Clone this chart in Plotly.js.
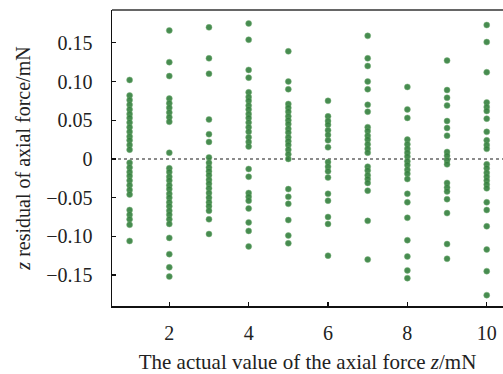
<!DOCTYPE html>
<html>
<head>
<meta charset="utf-8">
<script src="https://cdn.plot.ly/plotly-3.0.1.min.js"></script>
<style>html,body{margin:0;padding:0;background:#fff;}#chart{width:503px;height:374px;}</style>
</head>
<body>
<div id="chart"></div>
<script>
// Actual axial force values (mN)
var forces = [1, 2, 3, 4, 5, 6, 7, 8, 9, 10];
// Residuals (mN) for each force level
var res1 = [0.102, 0.082, 0.076, 0.070, 0.064, 0.058, 0.053, 0.047, 0.041, 0.035, 0.029, 0.024, 0.018, 0.012, -0.005, -0.011, -0.017, -0.022, -0.028, -0.034, -0.040, -0.046, -0.066, -0.072, -0.078, -0.085, -0.106];
var res2 = [0.166, 0.125, 0.107, 0.078, 0.072, 0.066, 0.060, 0.054, 0.048, 0.008, -0.012, -0.017, -0.023, -0.028, -0.034, -0.039, -0.045, -0.050, -0.056, -0.061, -0.067, -0.072, -0.078, -0.084, -0.102, -0.123, -0.140, -0.152];
var res3 = [0.170, 0.130, 0.110, 0.051, 0.032, 0.022, 0.002, -0.005, -0.011, -0.016, -0.021, -0.027, -0.032, -0.038, -0.044, -0.050, -0.056, -0.061, -0.067, -0.078, -0.097];
var res4 = [0.175, 0.154, 0.115, 0.105, 0.086, 0.080, 0.075, 0.069, 0.064, 0.058, 0.053, 0.047, 0.041, 0.035, 0.028, 0.022, 0.016, -0.013, -0.023, -0.044, -0.049, -0.054, -0.064, -0.082, -0.093, -0.113];
var res5 = [0.139, 0.100, 0.090, 0.071, 0.066, 0.061, 0.055, 0.050, 0.045, 0.039, 0.034, 0.028, 0.023, 0.018, 0.012, 0.006, 0.000, -0.039, -0.049, -0.058, -0.079, -0.099, -0.109];
var res6 = [0.075, 0.055, 0.049, 0.044, 0.037, 0.031, 0.024, 0.015, -0.004, -0.010, -0.016, -0.024, -0.045, -0.054, -0.075, -0.084, -0.125];
var res7 = [0.159, 0.130, 0.120, 0.100, 0.090, 0.070, 0.061, 0.041, 0.036, 0.030, 0.025, 0.019, 0.013, 0.008, -0.010, -0.015, -0.021, -0.026, -0.031, -0.041, -0.080, -0.130];
var res8 = [0.093, 0.064, 0.053, 0.025, 0.019, 0.013, 0.008, 0.003, -0.003, -0.008, -0.014, -0.019, -0.026, -0.045, -0.056, -0.076, -0.105, -0.126, -0.144, -0.154];
var res9 = [0.127, 0.089, 0.079, 0.069, 0.049, 0.040, 0.030, 0.009, 0.004, -0.002, -0.007, -0.031, -0.037, -0.042, -0.052, -0.070, -0.110, -0.129];
var res10 = [0.173, 0.151, 0.112, 0.073, 0.067, 0.062, 0.052, 0.035, 0.024, 0.018, 0.013, -0.007, -0.012, -0.018, -0.023, -0.028, -0.033, -0.038, -0.056, -0.066, -0.087, -0.117, -0.145, -0.176];

var xTickVals = [2, 4, 6, 8, 10];
var xTickText = ['2', '4', '6', '8', '10'];
var yTickVals = [-0.15, -0.10, -0.05, 0, 0.05, 0.10, 0.15];
var yTickText = ['\u22120.15', '\u22120.10', '\u22120.05', '0', '0.05', '0.10', '0.15'];

var allRes = [res1, res2, res3, res4, res5, res6, res7, res8, res9, res10];
var xs = [], ys = [];
forces.forEach(function (f, i) {
  allRes[i].forEach(function (r) { xs.push(f); ys.push(r); });
});

var serif = "'Liberation Serif', 'Times New Roman', serif";

var trace = {
  x: xs, y: ys, type: 'scatter', mode: 'markers',
  marker: { color: 'rgb(52,128,62)', size: 6, opacity: 0.9,
            line: { width: 0.6, color: 'rgba(110,170,110,0.8)' } },
  hoverinfo: 'x+y', showlegend: false
};

var layout = {
  width: 503, height: 374,
  margin: { l: 112, r: 0, t: 10, b: 68 },
  paper_bgcolor: '#fff', plot_bgcolor: '#fff',
  font: { family: serif, size: 20, color: '#222' },
  xaxis: {
    range: [0.556, 10.41],
    tickmode: 'array', tickvals: xTickVals, ticktext: xTickText,
    ticks: 'inside', ticklen: 4, tickwidth: 1.2, tickcolor: '#111',
    showline: true, linecolor: '#111', linewidth: 1.5,
    showgrid: false, zeroline: false,
    ticklabelstandoff: 8,
    tickfont: { family: serif, size: 20, color: '#222' },
    title: { text: 'The actual value of the axial force <i>z</i>/mN',
             font: { family: serif, size: 21, color: '#222' }, standoff: 14 }
  },
  yaxis: {
    range: [-0.190, 0.1924],
    tickmode: 'array', tickvals: yTickVals, ticktext: yTickText,
    ticks: 'inside', ticklen: 4, tickwidth: 1.2, tickcolor: '#111',
    showline: true, linecolor: '#111', linewidth: 1.5,
    showgrid: false, zeroline: false,
    ticklabelstandoff: 14,
    tickfont: { family: serif, size: 20, color: '#222' },
    title: { text: '<i>z</i> residual of axial force/mN',
             font: { family: serif, size: 20, color: '#222' }, standoff: 10 }
  },
  shapes: [
    { type: 'line', xref: 'paper', yref: 'y', x0: 0, x1: 1, y0: 0, y1: 0,
      line: { color: '#666', width: 1.5, dash: 'dot' }, layer: 'below' },
    { type: 'line', xref: 'paper', yref: 'paper', x0: 0, x1: 1, y0: 1, y1: 1,
      line: { color: '#666', width: 2 } }
  ]
};

Plotly.newPlot('chart', [trace], layout, { displayModeBar: false, staticPlot: true });
</script>
</body>
</html>
